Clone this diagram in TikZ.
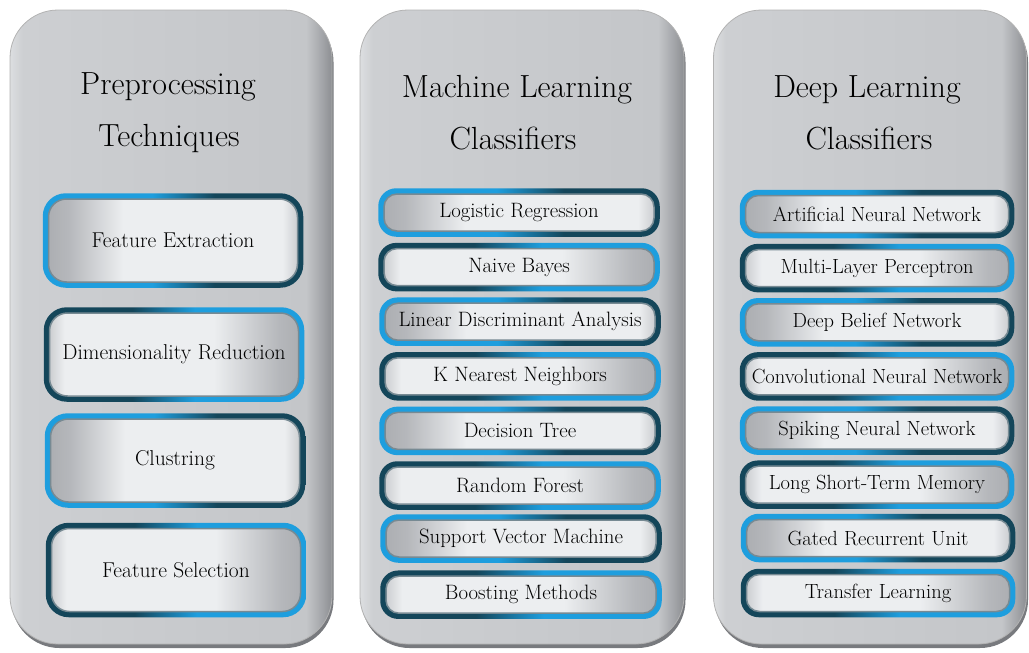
\documentclass[tikz,border=0pt]{standalone}
\usetikzlibrary{fit}
\pgfdeclarelayer{panel}
\pgfdeclarelayer{ring}
\pgfsetlayers{panel,ring,main}
\definecolor{ringblue}{RGB}{30,158,222}
\definecolor{ringdark}{RGB}{20,70,90}
\definecolor{fillgray}{RGB}{172,174,178}
\definecolor{filllight}{RGB}{236,238,240}
\definecolor{panelL}{RGB}{220,222,224}
\definecolor{panelM}{RGB}{205,207,210}
\definecolor{panelR}{RGB}{196,198,201}
\definecolor{panelD}{RGB}{140,142,146}
\definecolor{panelS}{RGB}{120,122,126}
\pgfdeclarehorizontalshading{panelsh}{100bp}{color(0bp)=(panelL); color(25bp)=(panelL); color(27bp)=(panelM); color(71bp)=(panelR); color(73.5bp)=(panelD!60!panelR); color(75bp)=(panelD); color(100bp)=(panelD)}
\pgfdeclarehorizontalshading{fillodd-sh}{100bp}{color(0bp)=(fillgray); color(25bp)=(fillgray); color(29bp)=(fillgray!85!filllight); color(40bp)=(filllight); color(72bp)=(filllight); color(75bp)=(fillgray!50!filllight); color(100bp)=(fillgray!50!filllight)}
\pgfdeclarehorizontalshading{filleven-sh}{100bp}{color(0bp)=(fillgray!50!filllight); color(25bp)=(fillgray!50!filllight); color(28bp)=(filllight); color(58bp)=(filllight); color(71bp)=(fillgray!85!filllight); color(75bp)=(fillgray); color(100bp)=(fillgray)}
\pgfdeclarehorizontalshading{ringodd-sh}{100bp}{color(0bp)=(ringblue); color(25bp)=(ringblue); color(46bp)=(ringblue); color(58bp)=(ringdark); color(100bp)=(ringdark)}
\pgfdeclarehorizontalshading{ringeven-sh}{100bp}{color(0bp)=(ringdark); color(42bp)=(ringdark); color(54bp)=(ringblue); color(75bp)=(ringblue); color(100bp)=(ringblue)}
\tikzset{
  panelbox/.style={shade, shading=panelsh, rounded corners=48pt, draw=black!30, line width=0.8pt,
    minimum height=634pt, inner sep=0pt,
    preaction={fill=panelS, transform canvas={xshift=1.5pt, yshift=-4pt}}},
  title/.style={font=\fontsize{32}{36}\selectfont, text=black, inner sep=0pt},
  pbox/.style={minimum width=249pt, minimum height=83pt, rounded corners=18pt, font=\fontsize{21.5}{25}\selectfont},
  mbox/.style={minimum width=270pt, minimum height=37pt, rounded corners=13pt, font=\fontsize{20.8}{24}\selectfont},
  dbox/.style={minimum width=263pt, minimum height=37pt, rounded corners=13pt, font=\fontsize{20.5}{24}\selectfont},
  odd/.style={shade, shading=fillodd-sh, draw=ringdark!35!fillgray, line width=1.5pt, inner sep=0pt, text=black},
  even/.style={shade, shading=filleven-sh, draw=ringdark!35!fillgray, line width=1.5pt, inner sep=0pt, text=black},
  ringodd/.style={shade, shading=ringodd-sh, inner sep=5pt, rounded corners=#1},
  ringeven/.style={shade, shading=ringeven-sh, inner sep=5pt, rounded corners=#1},
}
\begin{document}
\begin{tikzpicture}[x=1pt, y=-1pt]
\useasboundingbox (0,0) rectangle (1029,653);
% panels
\begin{pgfonlayer}{panel}
\node[panelbox, minimum width=322pt] (p1) at (171,327) {};
\node[panelbox, minimum width=324pt] (p2) at (522,327) {};
\node[panelbox, minimum width=313pt] (p3) at (870,327) {};
\end{pgfonlayer}
% titles
\node[title, anchor=base] (t1a) at (168,94) {Preprocessing};
\node[title, anchor=base] (t1b) at (169,146) {Techniques};
\node[title, anchor=base] (t2a) at (517,97) {Machine Learning};
\node[title, anchor=base] (t2b) at (513,149) {Classifiers};
\node[title, anchor=base] (t3a) at (867,97) {Deep Learning};
\node[title, anchor=base] (t3b) at (869,149) {Classifiers};
% preprocessing
\node[pbox, odd]  (fe) at (173,240.5) {Feature Extraction};
\node[pbox, even] (dr) at (174,354.5) {Dimensionality Reduction};
\node[pbox, odd]  (cl) at (175,460.5) {Clustring};
\node[pbox, even] (fs) at (176,570) {Feature Selection};
% machine learning
\node[mbox, odd]  (lr)  at (519,212.5) {Logistic Regression};
\node[mbox, even] (nb)  at (519,267.1) {Naive Bayes};
\node[mbox, odd]  (lda) at (520,321.7) {Linear Discriminant Analysis};
\node[mbox, even] (knn) at (520,376.3) {K Nearest Neighbors};
\node[mbox, odd]  (dt)  at (520,430.9) {Decision Tree};
\node[mbox, even] (rf)  at (520,485.5) {Random Forest};
\node[mbox, odd]  (svm) at (521,538.5) {Support Vector Machine};
\node[mbox, even] (bm)  at (521,594.7) {Boosting Methods};
% deep learning
\node[dbox, odd]  (ann)  at (877,214) {Artificial Neural Network};
\node[dbox, even] (mlp)  at (877,268.1) {Multi-Layer Perceptron};
\node[dbox, odd]  (dbn)  at (877,322.3) {Deep Belief Network};
\node[dbox, even] (cnn)  at (877,376.4) {Convolutional Neural Network};
\node[dbox, odd]  (snn)  at (877,430.6) {Spiking Neural Network};
\node[dbox, even] (lstm) at (877,484.7) {Long Short-Term Memory};
\node[dbox, odd]  (gru)  at (878,538) {Gated Recurrent Unit};
\node[dbox, even] (tl)   at (878,593) {Transfer Learning};
% rings
\begin{pgfonlayer}{ring}
\foreach \n/\p/\r in {fe/odd/23pt, dr/even/23pt, cl/odd/23pt, fs/even/23pt,
  lr/odd/18pt, nb/even/18pt, lda/odd/18pt, knn/even/18pt, dt/odd/18pt, rf/even/18pt, svm/odd/18pt, bm/even/18pt,
  ann/odd/18pt, mlp/even/18pt, dbn/odd/18pt, cnn/even/18pt, snn/odd/18pt, lstm/even/18pt, gru/odd/18pt, tl/even/18pt}
  {\node[ring\p=\r, fit=(\n)] (r\n) {};}
\end{pgfonlayer}
\end{tikzpicture}
\end{document}
